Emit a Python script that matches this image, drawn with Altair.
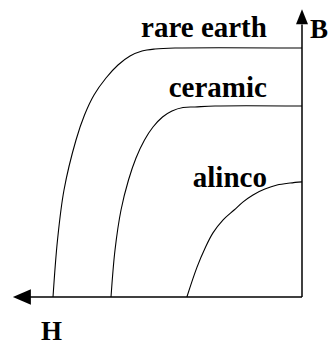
import altair as alt
import pandas as pd

# Demagnetisation (second-quadrant) B-H curves, H increasing to the left.
rare_earth_H = [8.586, 8.431, 8.207, 7.793, 7.500, 7.172, 6.759, 6.345, 5.931, 5.517, 5.069, 4.379, 0.0]
rare_earth_B = [0.0, 1.966, 3.690, 5.414, 6.276, 6.966, 7.552, 8.000, 8.310, 8.483, 8.552, 8.586, 8.586]

ceramic_H = [6.586, 6.448, 6.241, 5.983, 5.724, 5.431, 5.138, 4.810, 4.483, 4.103, 3.690, 3.000, 0.0]
ceramic_B = [0.0, 1.621, 3.000, 4.034, 4.793, 5.414, 5.862, 6.207, 6.414, 6.534, 6.552, 6.586, 6.586]

alinco_H = [3.97, 3.62, 3.34, 3.07, 2.72, 2.34, 2.03, 1.69, 1.28, 0.86, 0.41, 0.0]
alinco_B = [0.0, 1.03, 1.69, 2.21, 2.66, 3.00, 3.28, 3.52, 3.72, 3.86, 3.93, 3.97]

# Curve labels (right-aligned, just above each curve)
label_text = ["rare earth", "ceramic", "alinco"]
label_H = [1.21, 1.21, 1.21]
label_B = [8.97, 6.90, 3.78]

# Axis extent and axis-name positions
axis_len = 9.4
arrow_pos = 9.66
axis_names = ["B", "H"]
axis_name_H = [-0.28, 9.0]
axis_name_B = [8.93, -1.48]

SERIF = "Liberation Serif"

rows = []
for name, hs, bs in [("rare earth", rare_earth_H, rare_earth_B),
                     ("ceramic", ceramic_H, ceramic_B),
                     ("alinco", alinco_H, alinco_B)]:
    for i, (h, b) in enumerate(zip(hs, bs)):
        rows.append({"material": name, "H": h, "B": b, "order": i})
curves = pd.DataFrame(rows)

xs = alt.Scale(domain=[10.414, -1.069], nice=False, zero=False)
ys = alt.Scale(domain=[-1.897, 10.241], nice=False, zero=False)
X = lambda f: alt.X(f, type="quantitative", scale=xs, axis=None)
Y = lambda f: alt.Y(f, type="quantitative", scale=ys, axis=None)

curve_layer = alt.Chart(curves).mark_line(
    color="black", strokeWidth=1.1, interpolate="catmull-rom"
).encode(
    x=X("H"), y=Y("B"), detail="material:N", order="order:Q"
)

axes_df = pd.DataFrame({
    "H": [0.0, 0.0], "B": [0.0, 0.0],
    "H2": [axis_len, 0.0], "B2": [0.0, axis_len],
})
axes_layer = alt.Chart(axes_df).mark_rule(color="black", strokeWidth=1.5).encode(
    x=X("H"), y=Y("B"), x2="H2", y2="B2"
)

left_arrow = alt.Chart(pd.DataFrame({"H": [arrow_pos], "B": [0.0]})).mark_point(
    shape="M -1 0 L 1 -0.85 L 1 0.85 Z", size=324, filled=True,
    color="black", opacity=1, strokeWidth=0
).encode(x=X("H"), y=Y("B"))

up_arrow = alt.Chart(pd.DataFrame({"H": [0.0], "B": [arrow_pos]})).mark_point(
    shape="M 0 -1 L -0.8 1 L 0.8 1 Z", size=225, filled=True,
    color="black", opacity=1, strokeWidth=0
).encode(x=X("H"), y=Y("B"))

labels = alt.Chart(pd.DataFrame({"t": label_text, "H": label_H, "B": label_B})).mark_text(
    align="right", baseline="alphabetic", font=SERIF,
    fontSize=29, fontWeight="bold", color="black"
).encode(x=X("H"), y=Y("B"), text="t:N")

names = alt.Chart(pd.DataFrame({"t": axis_names, "H": axis_name_H, "B": axis_name_B})).mark_text(
    align="left", baseline="alphabetic", font=SERIF,
    fontSize=27, fontWeight="bold", color="black"
).encode(x=X("H"), y=Y("B"), text="t:N")

chart = alt.layer(axes_layer, curve_layer, left_arrow, up_arrow, labels, names).properties(
    width=333, height=352, padding=0,
    autosize=alt.AutoSizeParams(type="none"),
    background="white",
).configure_view(stroke=None)

chart.save("out.html", embed_options={"renderer": "svg", "actions": False})
